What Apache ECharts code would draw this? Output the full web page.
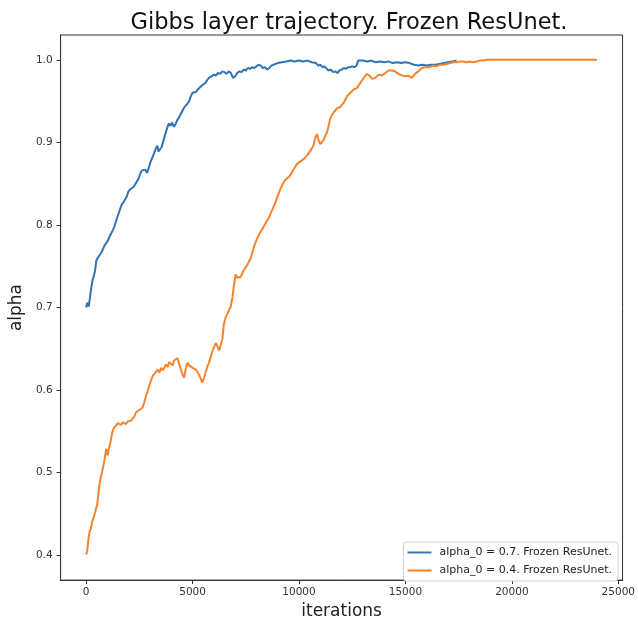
<!DOCTYPE html>
<html>
<head>
<meta charset="utf-8">
<script src="https://cdn.jsdelivr.net/npm/echarts@6/dist/echarts.min.js"></script>
<style>
  html, body { margin: 0; padding: 0; background: #ffffff; }
  #chart { width: 638px; height: 625px; }
</style>
</head>
<body>
<div id="chart"></div>
<script>
// Gibbs layer trajectories for two starting alphas (frozen ResUnet)
var seriesNames = ['alpha_0 = 0.7. Frozen ResUnet.', 'alpha_0 = 0.4. Frozen ResUnet.'];

var blueIter = [0, 60, 120, 180, 240, 300, 360, 420, 480, 540, 620, 700, 780, 860, 940, 1020, 1100, 1180, 1260, 1340,
  1420, 1500, 1580, 1660, 1740, 1820, 1900, 1980, 2060, 2140, 2220, 2300, 2380, 2460, 2540, 2620, 2700, 2780, 2860, 2940,
  3020, 3100, 3180, 3260, 3340, 3400, 3480, 3560, 3640, 3720, 3800, 3880, 3960, 4040, 4120, 4200, 4280, 4360, 4440, 4520,
  4600, 4680, 4760, 4840, 4920, 5000, 5080, 5160, 5240, 5320, 5400, 5500, 5600, 5700, 5800, 5900, 6000, 6100, 6200, 6300,
  6400, 6500, 6600, 6700, 6800, 6900, 7000, 7100, 7200, 7300, 7400, 7500, 7600, 7700, 7800, 7900, 8000, 8100, 8200, 8300,
  8400, 8500, 8600, 8700, 8800, 8900, 9000, 9200, 9400, 9600, 9800, 10000, 10200, 10400, 10600, 10800, 10900, 11000, 11100, 11200,
  11300, 11400, 11500, 11600, 11700, 11800, 11900, 12000, 12100, 12200, 12300, 12400, 12500, 12600, 12700, 12780, 12850, 13000, 13200, 13400,
  13600, 13800, 14000, 14200, 14400, 14600, 14800, 15000, 15200, 15400, 15600, 15800, 16000, 16200, 16400, 16600, 16800, 17000, 17200, 17400];
var blueAlpha = [0.700, 0.706, 0.701, 0.712, 0.724, 0.733, 0.738, 0.745, 0.757, 0.760, 0.762, 0.766, 0.770, 0.775, 0.774, 0.781, 0.786, 0.790, 0.794, 0.799,
  0.806, 0.812, 0.818, 0.824, 0.827, 0.829, 0.834, 0.840, 0.843, 0.845, 0.846, 0.849, 0.851, 0.856, 0.862, 0.866, 0.864, 0.867, 0.863, 0.869,
  0.876, 0.881, 0.886, 0.892, 0.896, 0.889, 0.888, 0.895, 0.903, 0.910, 0.917, 0.923, 0.920, 0.924, 0.919, 0.922, 0.927, 0.930, 0.934, 0.938,
  0.942, 0.944, 0.947, 0.950, 0.956, 0.960, 0.962, 0.961, 0.964, 0.966, 0.968, 0.970, 0.972, 0.976, 0.979, 0.980, 0.982, 0.981, 0.984, 0.983,
  0.986, 0.985, 0.983, 0.986, 0.984, 0.978, 0.980, 0.984, 0.986, 0.985, 0.988, 0.987, 0.990, 0.989, 0.991, 0.990, 0.992, 0.994, 0.993, 0.990,
  0.991, 0.988, 0.990, 0.993, 0.994, 0.995, 0.996, 0.997, 0.998, 0.999, 0.998, 0.999, 0.998, 0.999, 0.997, 0.996, 0.993, 0.994, 0.991, 0.992,
  0.989, 0.987, 0.988, 0.985, 0.986, 0.984, 0.987, 0.988, 0.990, 0.989, 0.991, 0.991, 0.992, 0.991, 0.993, 0.999, 1.000, 0.999, 0.998, 0.999,
  0.997, 0.998, 0.997, 0.998, 0.996, 0.997, 0.996, 0.997, 0.996, 0.994, 0.993, 0.994, 0.993, 0.994, 0.994, 0.995, 0.996, 0.997, 0.998, 0.999];

var orangeIter = [0, 50, 100, 160, 220, 280, 340, 390, 450, 515, 560, 620, 680, 740, 780, 840, 900, 940, 980, 1015,
  1060, 1110, 1170, 1230, 1280, 1330, 1400, 1480, 1560, 1640, 1720, 1800, 1870, 1950, 2030, 2110, 2190, 2260, 2340, 2420,
  2500, 2580, 2650, 2730, 2810, 2880, 2960, 3040, 3120, 3200, 3280, 3360, 3440, 3520, 3600, 3670, 3750, 3830, 3900, 3980,
  4060, 4140, 4220, 4290, 4370, 4450, 4530, 4600, 4680, 4760, 4840, 4920, 5000, 5080, 5150, 5230, 5300, 5380, 5460, 5540,
  5620, 5700, 5770, 5850, 5930, 6010, 6090, 6170, 6250, 6320, 6400, 6470, 6550, 6630, 6710, 6790, 6870, 6950, 7020, 7100,
  7180, 7260, 7340, 7420, 7500, 7580, 7650, 7730, 7810, 7890, 7960, 8040, 8120, 8200, 8280, 8360, 8430, 8510, 8590, 8670,
  8740, 8820, 8900, 8980, 9060, 9130, 9210, 9290, 9370, 9450, 9520, 9600, 9680, 9760, 9840, 9910, 9990, 10070, 10150, 10230,
  10300, 10380, 10460, 10530, 10610, 10690, 10760, 10850, 10920, 11000, 11080, 11160, 11230, 11310, 11390, 11460, 11540, 11620, 11700, 11780,
  11860, 11940, 12020, 12100, 12180, 12260, 12340, 12410, 12490, 12570, 12650, 12730, 12800, 12880, 12960, 13040, 13110, 13190, 13260, 13340,
  13420, 13500, 13580, 13660, 13740, 13820, 13900, 13970, 14050, 14130, 14210, 14290, 14360, 14430, 14510, 14590, 14670, 14750, 14830, 14900,
  14980, 15060, 15140, 15220, 15300, 15370, 15450, 15530, 15610, 15680, 15760, 15840, 15920, 16000, 16150, 16300, 16460, 16600, 16750, 16930,
  17100, 17250, 17400, 17560, 17700, 17850, 18000, 18180, 18350, 18500, 18650, 18800, 24000];
var orangeAlpha = [0.401, 0.405, 0.418, 0.429, 0.432, 0.440, 0.445, 0.449, 0.455, 0.461, 0.470, 0.485, 0.493, 0.500, 0.505, 0.512, 0.522, 0.529, 0.524, 0.521,
  0.528, 0.533, 0.541, 0.549, 0.553, 0.555, 0.557, 0.560, 0.561, 0.558, 0.561, 0.559, 0.559, 0.562, 0.560, 0.563, 0.563, 0.568, 0.573, 0.571,
  0.576, 0.578, 0.579, 0.585, 0.593, 0.598, 0.605, 0.611, 0.617, 0.615, 0.622, 0.625, 0.621, 0.627, 0.624, 0.627, 0.631, 0.628, 0.634, 0.633,
  0.630, 0.636, 0.634, 0.639, 0.632, 0.625, 0.619, 0.615, 0.626, 0.633, 0.630, 0.629, 0.627, 0.628, 0.625, 0.625, 0.619, 0.614, 0.609, 0.615,
  0.622, 0.629, 0.633, 0.640, 0.647, 0.652, 0.657, 0.653, 0.648, 0.647, 0.662, 0.680, 0.688, 0.692, 0.697, 0.701, 0.712, 0.728, 0.740, 0.736,
  0.738, 0.737, 0.742, 0.746, 0.749, 0.752, 0.754, 0.760, 0.767, 0.774, 0.779, 0.784, 0.788, 0.792, 0.795, 0.799, 0.802, 0.804, 0.809, 0.814,
  0.818, 0.823, 0.828, 0.834, 0.839, 0.844, 0.848, 0.852, 0.855, 0.856, 0.858, 0.860, 0.864, 0.868, 0.871, 0.874, 0.876, 0.877, 0.879, 0.880,
  0.882, 0.884, 0.887, 0.889, 0.893, 0.897, 0.905, 0.910, 0.903, 0.898, 0.896, 0.903, 0.908, 0.912, 0.920, 0.928, 0.933, 0.936, 0.938, 0.941,
  0.940, 0.943, 0.945, 0.948, 0.952, 0.956, 0.958, 0.960, 0.962, 0.964, 0.963, 0.966, 0.968, 0.972, 0.975, 0.978, 0.980, 0.983, 0.984, 0.980,
  0.977, 0.976, 0.978, 0.980, 0.982, 0.983, 0.981, 0.982, 0.984, 0.986, 0.987, 0.988, 0.987, 0.988, 0.986, 0.984, 0.983, 0.982, 0.981, 0.980,
  0.980, 0.979, 0.981, 0.979, 0.978, 0.980, 0.983, 0.985, 0.986, 0.988, 0.990, 0.990, 0.991, 0.992, 0.991, 0.993, 0.992, 0.994, 0.994, 0.995,
  0.996, 0.997, 0.997, 0.998, 0.998, 0.997, 0.998, 0.997, 0.998, 0.999, 0.999, 1.000, 1.000];

var xTicks = [0, 5000, 10000, 15000, 20000, 25000];
var yTicks = [0.4, 0.5, 0.6, 0.7, 0.8, 0.9, 1.0];

function pairs(xs, ys) {
  var out = [];
  for (var i = 0; i < xs.length; i++) out.push([xs[i], ys[i]]);
  return out;
}

var FONT = 'DejaVu Sans';
var chart = echarts.init(document.getElementById('chart'), null, { renderer: 'canvas' });

chart.setOption({
  animation: false,
  backgroundColor: '#ffffff',
  textStyle: { fontFamily: FONT },
  title: {
    text: 'Gibbs layer trajectory. Frozen ResUnet.',
    left: 344, top: 7, textAlign: 'center',
    textStyle: { fontFamily: FONT, fontSize: 22.5, fontWeight: 'normal', color: '#111' }
  },
  grid: {
    left: 59, right: 14, top: 35, bottom: 39,
    show: true, borderColor: '#333', borderWidth: 1, backgroundColor: 'transparent'
  },
  legend: {
    data: seriesNames,
    orient: 'vertical',
    right: 20, bottom: 44,
    itemWidth: 24, itemHeight: 2, itemGap: 5,
    icon: 'rect',
    backgroundColor: '#fff',
    borderColor: '#d0d0d0', borderWidth: 1, borderRadius: 3,
    padding: [4, 6, 4, 4],
    textStyle: { fontFamily: FONT, fontSize: 11, color: '#222', lineHeight: 13, padding: [0, 0, 0, 3] }
  },
  xAxis: {
    type: 'value', min: -1200, max: 25200,
    name: 'iterations', nameLocation: 'middle', nameGap: 22,
    nameTextStyle: { fontFamily: FONT, fontSize: 17, color: '#222' },
    axisLine: { show: true, onZero: false, lineStyle: { color: '#333' } },
    axisTick: { show: true, inside: false, length: 4, customValues: xTicks, lineStyle: { color: '#333' } },
    axisLabel: { customValues: xTicks, fontFamily: FONT, fontSize: 10.5, color: '#333', margin: 7,
      formatter: function (v) { return String(Math.round(v)); } },
    splitLine: { show: false }
  },
  yAxis: {
    type: 'value', min: 0.37, max: 1.03,
    name: 'alpha', nameLocation: 'middle', nameGap: 28, nameRotate: 90,
    nameTextStyle: { fontFamily: FONT, fontSize: 17, color: '#222' },
    axisLine: { show: true, onZero: false, lineStyle: { color: '#333' } },
    axisTick: { show: true, inside: false, length: 4, customValues: yTicks, lineStyle: { color: '#333' } },
    axisLabel: { customValues: yTicks, fontFamily: FONT, fontSize: 10.5, color: '#333', margin: 8,
      formatter: function (v) { return v.toFixed(1); } },
    splitLine: { show: false }
  },
  series: [
    {
      name: seriesNames[0], type: 'line', data: pairs(blueIter, blueAlpha),
      showSymbol: false, symbol: 'none',
      lineStyle: { color: '#3274b3', width: 2 }, itemStyle: { color: '#3274b3' }
    },
    {
      name: seriesNames[1], type: 'line', data: pairs(orangeIter, orangeAlpha),
      showSymbol: false, symbol: 'none',
      lineStyle: { color: '#f5842c', width: 2 }, itemStyle: { color: '#f5842c' }
    }
  ]
});
</script>
</body>
</html>
